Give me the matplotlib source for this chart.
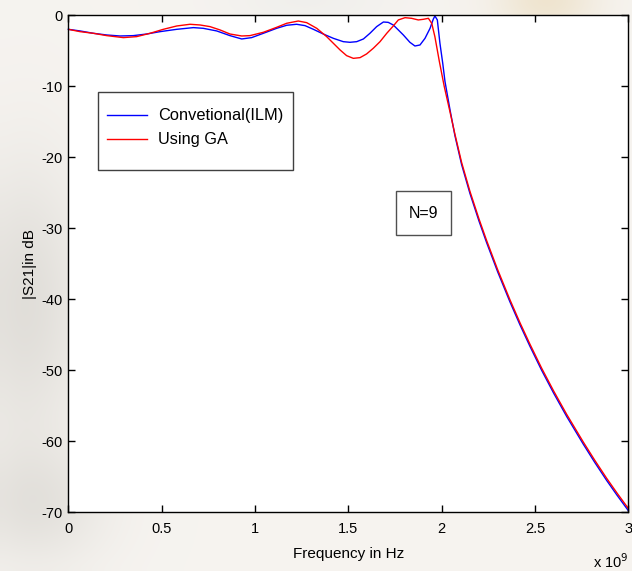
import numpy as np
import matplotlib
matplotlib.use("Agg")
import matplotlib.pyplot as plt
from matplotlib.patches import Rectangle

plt.rcParams['font.family'] = ['Liberation Sans', 'DejaVu Sans']

# Frequency in units of 1e9 Hz, |S21| in dB
freq_ilm = [0.000, 0.063, 0.134, 0.206, 0.277, 0.348, 0.420, 0.491, 0.581, 0.670,
            0.723, 0.795, 0.866, 0.929, 0.982, 1.045, 1.116, 1.170, 1.223, 1.268,
            1.313, 1.366, 1.420, 1.473, 1.509, 1.545, 1.581, 1.616, 1.652, 1.688,
            1.714, 1.741, 1.768, 1.795, 1.830, 1.857, 1.884, 1.911, 1.938, 1.955,
            1.964, 1.977, 1.991, 2.006, 2.018, 2.045, 2.071, 2.107, 2.152, 2.200,
            2.241, 2.300, 2.366, 2.420, 2.473, 2.536, 2.600, 2.670, 2.759, 2.820,
            2.884, 2.940, 3.000]
s21_ilm = [-1.95, -2.18, -2.51, -2.75, -2.89, -2.84, -2.61, -2.28, -1.95, -1.71,
           -1.81, -2.18, -2.84, -3.31, -3.12, -2.51, -1.81, -1.38, -1.24, -1.43,
           -1.95, -2.61, -3.22, -3.69, -3.78, -3.69, -3.31, -2.51, -1.57, -0.92,
           -0.97, -1.34, -2.04, -2.75, -3.78, -4.30, -4.16, -3.22, -1.81, -0.54,
           -0.07, -0.63, -3.92, -6.74, -9.30, -13.30, -16.90, -21.00, -25.10, -28.95,
           -32.00, -36.10, -40.35, -43.60, -46.60, -50.00, -53.20, -56.50, -60.40, -62.95,
           -65.50, -67.60, -69.75]

freq_ga = [0.000, 0.063, 0.134, 0.206, 0.295, 0.366, 0.438, 0.509, 0.581, 0.652,
           0.706, 0.759, 0.813, 0.866, 0.929, 0.973, 1.045, 1.116, 1.170, 1.232,
           1.277, 1.331, 1.384, 1.420, 1.456, 1.491, 1.527, 1.563, 1.598, 1.634,
           1.670, 1.706, 1.741, 1.768, 1.804, 1.839, 1.875, 1.902, 1.929, 1.947,
           1.964, 1.988, 2.014, 2.045, 2.071, 2.107, 2.152, 2.200, 2.241, 2.300,
           2.366, 2.420, 2.473, 2.536, 2.600, 2.670, 2.759, 2.820, 2.884, 2.940,
           3.000]
s21_ga = [-1.95, -2.28, -2.51, -2.84, -3.12, -2.98, -2.51, -1.95, -1.48, -1.24,
          -1.34, -1.57, -2.04, -2.61, -2.89, -2.84, -2.37, -1.67, -1.10, -0.78,
          -1.01, -1.81, -2.98, -3.92, -4.86, -5.66, -6.04, -5.94, -5.42, -4.62,
          -3.69, -2.51, -1.48, -0.63, -0.31, -0.40, -0.63, -0.54, -0.40, -1.10,
          -3.00, -6.50, -10.00, -13.60, -16.70, -20.70, -24.80, -28.65, -31.70, -35.80,
          -40.05, -43.30, -46.30, -49.70, -52.90, -56.20, -60.10, -62.65, -65.20, -67.30,
          -69.45]

xticks = [0, 0.5, 1, 1.5, 2, 2.5, 3]
xtick_labels = ['0', '0.5', '1', '1.5', '2', '2.5', '3']
yticks = [0, -10, -20, -30, -40, -50, -60, -70]
ytick_labels = ['0', '-10', '-20', '-30', '-40', '-50', '-60', '-70']

fig = plt.figure(figsize=(6.32, 5.71), dpi=100)

# soft backdrop behind the plot
bg = fig.add_axes([0, 0, 1, 1], zorder=-10)
H, W = 57, 63
yy, xx = np.mgrid[0:H, 0:W]
base = np.array([0.965, 0.955, 0.94])
img = np.ones((H, W, 3)) * base
def blob(cx, cy, sx, sy, col, amt):
    g = np.exp(-(((xx - cx) / sx) ** 2 + ((yy - cy) / sy) ** 2))[..., None]
    return g * amt * (np.array(col) - base)
img += blob(2, 30, 6, 14, [0.86, 0.85, 0.83], 0.8)
img += blob(3, 50, 7, 6, [0.87, 0.86, 0.84], 0.7)
img += blob(54, 0, 5, 2.5, [0.93, 0.88, 0.78], 0.8)
img += blob(30, 0, 8, 2, [0.93, 0.93, 0.92], 0.6)
img = np.clip(img, 0, 1)
bg.imshow(img, extent=[0, 1, 0, 1], aspect='auto', interpolation='bicubic')
bg.set_axis_off()

ax = fig.add_axes([0.1081, 0.1028, 0.886, 0.8701])
ax.set_facecolor('white')
ax.plot(freq_ilm, s21_ilm, color='#0000ff', lw=1.0, label='Convetional(ILM)', clip_on=False)
ax.plot(freq_ga, s21_ga, color='#ff0000', lw=1.0, label='Using GA')

ax.set_xlim(0, 3)
ax.set_ylim(-70, 0)
ax.set_xticks(xticks)
ax.set_xticklabels(xtick_labels)
ax.set_yticks(yticks)
ax.set_yticklabels(ytick_labels)
ax.tick_params(direction='in', top=True, right=True, length=5, width=1,
               labelsize=10.5, colors='black')
ax.tick_params(axis='x', pad=7)
ax.tick_params(axis='y', pad=4)
for s in ax.spines.values():
    s.set_linewidth(1.0)

ax.set_xlabel('Frequency in Hz', fontsize=11, labelpad=8)
ax.set_ylabel('|S21|in dB', fontsize=11, labelpad=3)
ax.text(1.0, -0.112, r'x 10$^{9}$', transform=ax.transAxes, ha='right', va='baseline',
        fontsize=10.5)

# legend with a taller frame drawn separately
ax.add_patch(Rectangle((0.0536, 0.6882), 0.3482, 0.1584, transform=ax.transAxes,
                       fill=True, facecolor='white', edgecolor='#404040', lw=1.0, zorder=3))
leg = ax.legend(loc='upper left', bbox_to_anchor=(0.058, 0.826), frameon=False,
                fontsize=11.8, handlelength=2.4, handletextpad=0.7, labelspacing=0.55,
                borderaxespad=0)
leg.set_zorder(4)

# order annotation
ax.add_patch(Rectangle((0.5845, 0.5576), 0.0982, 0.0886, transform=ax.transAxes,
                       fill=True, facecolor='white', edgecolor='#505050', lw=1.0, zorder=3))
ax.text(0.6336, 0.6019, 'N=9', transform=ax.transAxes, ha='center', va='center',
        fontsize=11.5, zorder=4)

fig.savefig('out.png', dpi=100)
